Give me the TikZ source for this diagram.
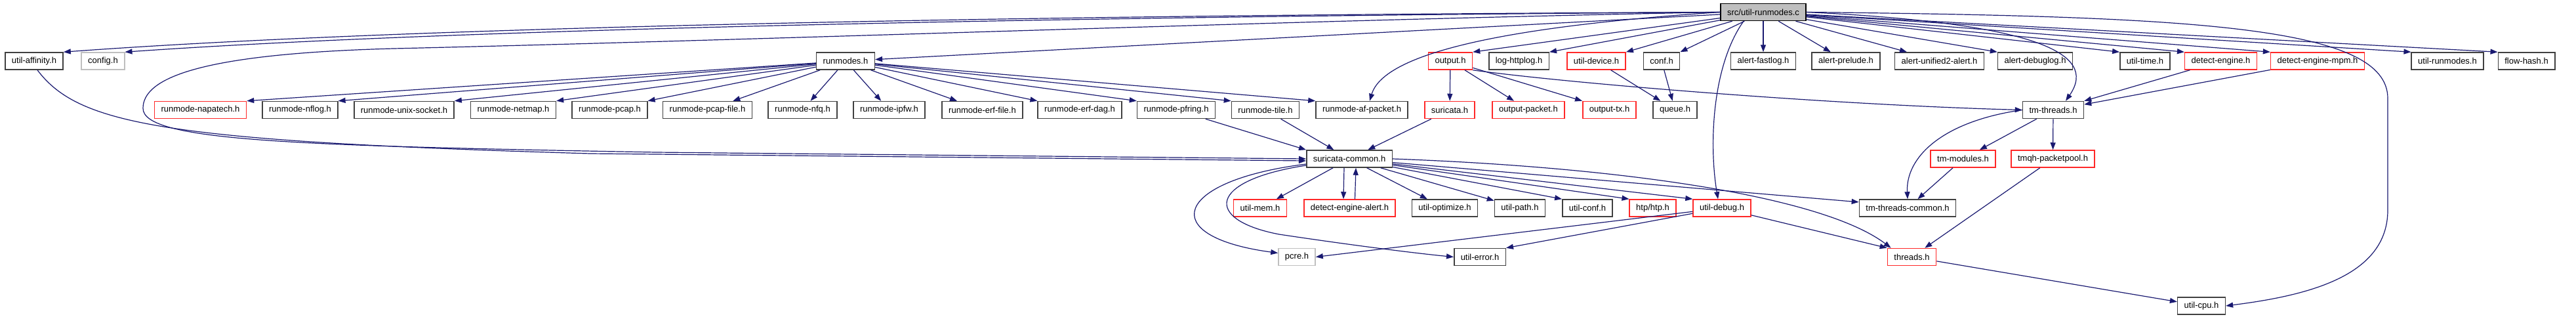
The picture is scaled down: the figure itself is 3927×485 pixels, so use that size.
\documentclass[tikz,border=0pt]{standalone}
\usepackage{fontspec}
\setmainfont{Liberation Sans}
\usetikzlibrary{arrows.meta}
\definecolor{deplink}{RGB}{25,25,112}
\definecolor{boxline}{RGB}{64,64,64}
\definecolor{missing}{RGB}{191,191,191}
\definecolor{undoc}{RGB}{255,40,40}
\definecolor{srcfill}{RGB}{191,191,191}

\begin{document}
\begin{tikzpicture}[
    x=1pt, y=-1pt,
    every node/.style={font=\fontsize{13}{15}\selectfont},
    incbox/.style={
        draw=boxline,
        line width=1.5pt,
        fill=white,
        inner xsep=10pt,
        inner ysep=0pt,
        minimum height=26pt
    },
    incred/.style={incbox, draw=undoc},
    incgray/.style={incbox, draw=missing},
    srcbox/.style={incbox, draw=black, fill=srcfill},
    dep/.style={-{Triangle[length=11pt,width=8pt]}, deplink, line width=1.2pt}
]
\useasboundingbox (0,0) rectangle (3927,485);

\node[srcbox] (src) at (2688,18.5) {src/util-runmodes.c};

% direct includes
\node[incbox]  (affinity)  at (52,93)     {util-affinity.h};
\node[incgray] (config)    at (157,93)    {config.h};
\node[incbox]  (runmodes)  at (1289,93)   {runmodes.h};
\node[incred]  (output)    at (2211,93)   {output.h};
\node[incbox]  (httplog)   at (2315.5,93) {log-httplog.h};
\node[incred]  (device)    at (2433.5,93) {util-device.h};
\node[incbox]  (conf)      at (2533,93)   {conf.h};
\node[incbox]  (fastlog)   at (2688,93)   {alert-fastlog.h};
\node[incbox]  (prelude)   at (2814,93)   {alert-prelude.h};
\node[incbox]  (unified)   at (2956.5,93) {alert-unified2-alert.h};
\node[incbox]  (debuglog)  at (3102.5,93) {alert-debuglog.h};
\node[incbox]  (utime)     at (3270,93)   {util-time.h};
\node[incred]  (detect)    at (3385.5,93) {detect-engine.h};
\node[incred]  (mpm)       at (3533,93)   {detect-engine-mpm.h};
\node[incbox]  (urunmodes) at (3731,93)   {util-runmodes.h};
\node[incbox]  (flowhash)  at (3851.5,93) {flow-hash.h};

% runmode headers and friends
\node[incred] (napatech)  at (305.5,167.5)  {runmode-napatech.h};
\node[incbox] (nflog)     at (457.5,167.5)  {runmode-nflog.h};
\node[incbox] (unixsock)  at (616,167.5)    {runmode-unix-socket.h};
\node[incbox] (netmap)    at (782.5,167.5)  {runmode-netmap.h};
\node[incbox] (pcap)      at (929.5,167.5)  {runmode-pcap.h};
\node[incbox] (pcapfile)  at (1078.5,167.5) {runmode-pcap-file.h};
\node[incbox] (nfq)       at (1223.5,167.5) {runmode-nfq.h};
\node[incbox] (ipfw)      at (1355.5,167.5) {runmode-ipfw.h};
\node[incbox] (erffile)   at (1497.5,167.5) {runmode-erf-file.h};
\node[incbox] (erfdag)    at (1646,167.5)   {runmode-erf-dag.h};
\node[incbox] (pfring)    at (1793,167.5)   {runmode-pfring.h};
\node[incbox] (tile)      at (1929,167.5)   {runmode-tile.h};
\node[incbox] (afpacket)  at (2076,167.5)   {runmode-af-packet.h};
\node[incred] (suricata)  at (2210,167.5)   {suricata.h};
\node[incred] (outpacket) at (2330,167.5)   {output-packet.h};
\node[incred] (outtx)     at (2453.5,167.5) {output-tx.h};
\node[incbox] (queue)     at (2553.5,167.5) {queue.h};
\node[incbox] (tmthreads) at (3130,167.5)   {tm-threads.h};

\node[incbox] (common)     at (2057,242)   {suricata-common.h};
\node[incred] (tmmodules)  at (2992.5,242) {tm-modules.h};
\node[incred] (packetpool) at (3129.5,242) {tmqh-packetpool.h};

\node[incred] (mem)      at (1921,317)   {util-mem.h};
\node[incred] (dealert)  at (2057.5,317) {detect-engine-alert.h};
\node[incbox] (optimize) at (2202.5,317) {util-optimize.h};
\node[incbox] (upath)    at (2317,317)   {util-path.h};
\node[incbox] (uconf)    at (2420,317)   {util-conf.h};
\node[incred] (htp)      at (2519.5,317) {htp/htp.h};
\node[incred] (udebug)   at (2625,317)   {util-debug.h};
\node[incbox] (tmcommon) at (2908,317)   {tm-threads-common.h};

\node[incgray] (pcre)    at (1977,391.5)   {pcre.h};
\node[incbox]  (uerror)  at (2256,391.5)   {util-error.h};
\node[incred]  (threads) at (2914.5,391.5) {threads.h};

\node[incbox] (cpu) at (3356,466) {util-cpu.h};

% edges out of the source file
\draw[dep] (src.west) .. controls (1800,22) and (700,35) .. (affinity.north east);
\draw[dep] (src.west) .. controls (1800,24) and (750,40) .. (config.north east);
\draw[dep] (src) -- (runmodes);
\draw[dep] (src.west) .. controls (2000,30) and (1200,60) .. (600,74)
    .. controls (300,82) and (218,120) .. (218,165)
    .. controls (218,215) and (450,222) .. (1000,232) -- (common.west);
\draw[dep] (src.west) .. controls (2300,40) and (2110,80) .. ([xshift=12pt]afpacket.north);
\draw[dep] (src) -- (output.north east);
\draw[dep] (src) -- (httplog.north east);
\draw[dep] (src) -- (device.north east);
\draw[dep] (src) -- (conf.north east);
\draw[dep] ([xshift=-30pt]src.south) .. controls (2610,100) and (2605,220) .. ([xshift=-6pt]udebug.north);
\draw[dep] (src) -- (fastlog);
\draw[dep] (src) -- (prelude);
\draw[dep] (src) -- (unified);
\draw[dep] (src) -- (debuglog.north west);
\draw[dep] (src.east) .. controls (3100,35) and (3200,80) .. ([xshift=19pt]tmthreads.north);
\draw[dep] (src) -- (utime.north west);
\draw[dep] (src) -- (detect.north west);
\draw[dep] (src) -- (mpm.north west);
\draw[dep] (src.east) .. controls (3350,25) and (3640,40) .. (3640,150) -- (3640,320)
    .. controls (3640,420) and (3520,450) .. (cpu.east);
\draw[dep] (src) -- (urunmodes.north west);
\draw[dep] (src) -- (flowhash.north west);

% runmodes.h
\draw[dep] (runmodes) -- (napatech.north east);
\draw[dep] (runmodes) -- (nflog.north east);
\draw[dep] (runmodes) -- (unixsock.north east);
\draw[dep] (runmodes) -- (netmap.north east);
\draw[dep] (runmodes) -- (pcap.north east);
\draw[dep] (runmodes) -- (pcapfile);
\draw[dep] (runmodes) -- (nfq);
\draw[dep] (runmodes) -- (ipfw);
\draw[dep] (runmodes) -- (erffile);
\draw[dep] (runmodes) -- (erfdag.north west);
\draw[dep] (runmodes) -- (pfring.north west);
\draw[dep] (runmodes) -- (tile.north west);
\draw[dep] (runmodes) -- (afpacket.north west);

\draw[dep] (affinity.290) .. controls (120,190) and (250,215) .. (900,234) -- ([yshift=-3pt]common.west);
\draw[dep] (pfring) -- (common.north west);
\draw[dep] (tile) -- (common);
\draw[dep] (suricata) -- (common);

% output.h and the rest
\draw[dep] (output) -- (suricata);
\draw[dep] (output) -- (outpacket);
\draw[dep] (output) -- (outtx.north west);
\draw[dep] (output.south east) .. controls (2400,128) and (2800,160) .. (tmthreads.west);
\draw[dep] (device) -- (queue);
\draw[dep] (conf) -- (queue);
\draw[dep] (detect) -- (tmthreads.north east);
\draw[dep] (mpm) -- (tmthreads.10);

% suricata-common.h
\draw[dep] (common) -- (mem);
\draw[dep] ([xshift=-8pt]common.south) -- ([xshift=-9.5pt]dealert.north);
\draw[dep] ([xshift=8pt]dealert.north) -- ([xshift=10pt]common.south);
\draw[dep] (common) -- (optimize);
\draw[dep] (common) -- (upath);
\draw[dep] (common) -- (uconf.north west);
\draw[dep] (common) -- (htp.north west);
\draw[dep] (common) -- (udebug.north west);
\draw[dep] (common) -- (tmcommon.173);
\draw[dep] (common.east) .. controls (2480,255) and (2780,300) .. ([xshift=6pt]threads.north west);
\draw[dep] ([yshift=-8pt]common.west) .. controls (1790,275) and (1760,360) .. ([yshift=6pt]pcre.west);
\draw[dep] ([yshift=-10pt]common.west) .. controls (1840,275) and (1835,335) .. (1950,357)
    .. controls (2050,372) and (2150,385) .. (uerror.west);

\draw[dep] (udebug) -- (pcre.east);
\draw[dep] (udebug) -- (uerror.north east);
\draw[dep] (udebug) -- (threads.north west);

% tm-threads.h
\draw[dep] (tmthreads) -- (tmmodules);
\draw[dep] (tmthreads) -- (packetpool);
\draw[dep] (tmthreads.west) .. controls (2960,185) and (2905,240) .. (tmcommon.north);
\draw[dep] (tmmodules) -- (tmcommon);
\draw[dep] (packetpool) -- (threads);
\draw[dep] (threads) -- (cpu);
\end{tikzpicture}
\end{document}
